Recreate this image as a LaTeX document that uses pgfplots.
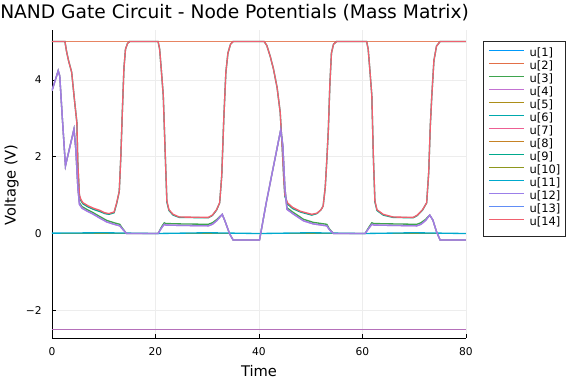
\documentclass[border=0pt]{standalone}
\usepackage{pgfplots}
\pgfplotsset{compat=1.18}
\usepackage{fontspec}
\setmainfont{DejaVu Sans}
\definecolor{c1}{HTML}{009AFA}
\definecolor{c2}{HTML}{E36F47}
\definecolor{c3}{HTML}{3EA44E}
\definecolor{c4}{HTML}{C371D2}
\definecolor{c5}{HTML}{AC8E18}
\definecolor{c6}{HTML}{00A9AD}
\definecolor{c7}{HTML}{ED5E93}
\definecolor{c8}{HTML}{C68225}
\definecolor{c9}{HTML}{00A98D}
\definecolor{c10}{HTML}{8E971D}
\definecolor{c11}{HTML}{00A9CD}
\definecolor{c12}{HTML}{9B7FE9}
\definecolor{c13}{HTML}{618DF6}
\definecolor{c14}{HTML}{F0606E}
\pgfplotsset{lw/.style={line width=1pt}}
\begin{document}
\begin{tikzpicture}
\useasboundingbox (0,0) rectangle (432pt,288pt);
\begin{axis}[
  at={(39pt,34.5pt)}, anchor=south west,
  scale only axis, width=310.5pt, height=231pt,
  xmin=0, xmax=80, ymin=-2.72, ymax=5.3,
  axis x line*=bottom, axis y line*=left,
  axis line style={black, line width=0.7pt},
  tick align=inside, major tick length=3pt,
  tick style={black, line width=0.6pt},
  xtick={0,20,40,60,80}, ytick={-2,0,2,4},
  yticklabels={−2,0,2,4},
  grid=major, major grid style={black!7, line width=0.5pt},
  /pgf/number format/assume math mode=true,
  ticklabel style={font=\fontsize{8}{9.6}\selectfont},
  xticklabel style={yshift=-3.8pt},
  yticklabel style={xshift=-4.3pt},
  legend image code/.code={\draw[#1, line width=1.125pt] (0pt,2.7pt) -- (26.25pt,2.7pt);},
  legend style={at={(rel axis cs:1,1)}, anchor=north west, xshift=12.75pt, yshift=-8.25pt,
    draw=black!85, font=\fontsize{8.6}{10}\selectfont,
    inner xsep=3.75pt, inner ysep=4.8pt, row sep=0pt, column sep=3.6pt,
    nodes={inner sep=0pt, text height=6.9pt, text depth=2.85pt}},
  legend cell align=left,
  legend entries={u[1],u[2],u[3],u[4],u[5],u[6],u[7],u[8],u[9],u[10],u[11],u[12],u[13],u[14]},
]
\addlegendimage{c1}
\addlegendimage{c2}
\addlegendimage{c3}
\addlegendimage{c4}
\addlegendimage{c5}
\addlegendimage{c6}
\addlegendimage{c7}
\addlegendimage{c8}
\addlegendimage{c9}
\addlegendimage{c10}
\addlegendimage{c11}
\addlegendimage{c12}
\addlegendimage{c13}
\addlegendimage{c14}
% ground-level nodes
\addplot[forget plot, c1, lw] coordinates {(0,0) (80,0)};
\addplot[forget plot, c5, lw] coordinates {(0,0) (80,0)};
\addplot[forget plot, c6, lw] coordinates {(0,0) (80,0)};
\addplot[forget plot, c8, lw] coordinates {(0,0) (80,0)};
\addplot[forget plot, c10, lw] coordinates {(0,0) (80,0)};
\addplot[forget plot, c11, lw] coordinates {(0,0.01) (10,0.02) (20,0.0) (30,0.02) (40,0.0) (50,0.02) (60,0.0) (70,0.02) (80,0.0)};
% supply -2.5
\addplot[forget plot, c13, lw] coordinates {(0,-2.5) (80,-2.5)};
\addplot[forget plot, c7, lw, opacity=0.6] coordinates {(0,-2.5) (80,-2.5)};
% supply 5
\addplot[forget plot, c2, line width=1.125pt, opacity=0.85] coordinates {(0,5) (80,5)};
% u[9] close to output
\addplot[forget plot, c9, lw] coordinates {
(0,5.0) (2.5,5.0) (2.8,4.75) (3.2,4.5) (3.8,4.2) (4.4,3.4) (4.8,2.9) (5.0,1.8) (5.3,0.97) (5.6,0.85) (6.0,0.77) (7,0.69) (8,0.63) (9.3,0.57) (10.2,0.52) (11,0.5) (12,0.54) (12.5,0.78) (13.0,1.1) (13.3,2.0) (13.6,3.2) (13.9,4.3) (14.2,4.8) (14.6,4.95) (15,5.0)
(20.5,5.0) (20.8,4.8) (21.1,4.3) (21.5,3.6) (21.9,2.0) (22.2,0.82) (22.6,0.6) (23.4,0.48) (24.6,0.42) (30.2,0.41) (31.0,0.47) (31.8,0.61) (32.4,0.8) (32.8,1.5) (33.2,3.0) (33.6,4.2) (34.0,4.7) (34.5,4.93) (35,5.0)
(41.0,5.0) (41.5,4.9) (42.2,4.6) (42.8,4.28) (43.5,3.8) (44.1,3.15) (44.5,2.2) (44.8,1.4) (45,0.97) (45.5,0.77) (46.5,0.65) (48,0.56) (50.2,0.48) (51.2,0.52) (52,0.62) (52.4,0.72) (52.8,1.2) (53.1,1.9) (53.4,2.7) (53.7,3.9) (54,4.7) (54.4,4.93) (55,5.0)
(60.8,5.0) (61.1,4.8) (61.4,4.3) (61.8,3.6) (62.1,2.0) (62.4,0.82) (62.8,0.6) (64,0.48) (65.9,0.42) (69.8,0.41) (70.6,0.47) (71.6,0.61) (72.4,0.8) (72.8,1.6) (73.1,2.8) (73.4,3.6) (73.8,4.5) (74.3,4.88) (75,5.0) (80,5.0)};
% output u[14]
\addplot[forget plot, c14, lw] coordinates {
(0,5.0) (2.5,5.0) (2.8,4.75) (3.2,4.5) (3.8,4.2) (4.4,3.4) (4.8,2.9) (5.0,1.8) (5.3,1.0) (5.6,0.88) (6.0,0.80) (7,0.72) (8,0.66) (9.3,0.6) (10.2,0.54) (11,0.52) (12,0.56) (12.5,0.8) (13.0,1.1) (13.3,2.0) (13.6,3.2) (13.9,4.3) (14.2,4.8) (14.6,4.95) (15,5.0)
(20.5,5.0) (20.8,4.8) (21.1,4.3) (21.5,3.6) (21.9,2.0) (22.2,0.85) (22.6,0.62) (23.4,0.5) (24.6,0.43) (30.2,0.42) (31.0,0.48) (31.8,0.62) (32.4,0.8) (32.8,1.5) (33.2,3.0) (33.6,4.2) (34.0,4.7) (34.5,4.93) (35,5.0)
(41.0,5.0) (41.5,4.9) (42.2,4.6) (42.8,4.28) (43.5,3.8) (44.1,3.15) (44.5,2.2) (44.8,1.4) (45,1.0) (45.5,0.8) (46.5,0.68) (48,0.58) (50.2,0.5) (51.2,0.53) (52,0.62) (52.4,0.72) (52.8,1.2) (53.1,1.9) (53.4,2.7) (53.7,3.9) (54,4.7) (54.4,4.93) (55,5.0)
(60.8,5.0) (61.1,4.8) (61.4,4.3) (61.8,3.6) (62.1,2.0) (62.4,0.85) (62.8,0.62) (64,0.5) (65.9,0.43) (69.8,0.42) (70.6,0.48) (71.6,0.62) (72.4,0.8) (72.8,1.6) (73.1,2.8) (73.4,3.6) (73.8,4.5) (74.3,4.88) (75,5.0) (80,5.0)};
% u[3] slightly above the internal node
\addplot[forget plot, c3, lw] coordinates {
(0,3.72) (1.2,4.24) (1.5,4.1) (2.0,3.0) (2.6,1.76) (4.25,2.72) (4.6,2.2) (5.0,1.2) (5.3,0.8) (5.8,0.7) (6.7,0.63) (8,0.54) (9,0.46) (10.6,0.34) (12,0.28) (13.1,0.24) (13.6,0.14) (14.4,0.0) (20.5,0.0) (21.2,0.18) (21.7,0.28) (22,0.26) (25,0.25) (30.2,0.24) (31,0.28) (31.8,0.36) (32.4,0.44) (32.9,0.5) (33.5,0.3) (34.3,0.0) (35,-0.17)
(40.1,-0.17) (41.4,0.8) (44.2,2.7) (44.6,2.3) (45.0,1.2) (45.4,0.67) (46.5,0.56) (48.6,0.37) (50.5,0.29) (53.1,0.24) (53.6,0.12) (54.4,0.0) (60.5,0.0) (61.3,0.18) (61.8,0.28) (62.2,0.26) (66,0.25) (70.5,0.24) (71.3,0.28) (72.2,0.37) (73,0.48) (73.6,0.35) (74.3,0.05) (75,-0.17) (80,-0.17)};
% internal nodes u[4], u[12]
\addplot[forget plot, c4, lw] coordinates {
(0,3.72) (1.2,4.24) (1.5,4.1) (2.0,3.0) (2.6,1.76) (4.25,2.72) (4.6,2.2) (5.0,1.2) (5.3,0.76) (5.8,0.66) (6.7,0.59) (8,0.5) (9,0.42) (10.6,0.3) (12,0.24) (13.1,0.2) (13.6,0.12) (14.4,0.0) (20.5,0.0) (21.2,0.15) (21.7,0.24) (22,0.22) (25,0.21) (30.2,0.2) (31,0.24) (31.8,0.33) (32.4,0.42) (32.9,0.5) (33.5,0.3) (34.3,0.0) (35,-0.17)
(40.1,-0.17) (41.4,0.8) (44.2,2.7) (44.6,2.3) (45.0,1.2) (45.4,0.63) (46.5,0.52) (48.6,0.33) (50.5,0.25) (53.1,0.2) (53.6,0.1) (54.4,0.0) (60.5,0.0) (61.3,0.15) (61.8,0.24) (62.2,0.22) (66,0.21) (70.5,0.2) (71.3,0.24) (72.2,0.34) (73,0.48) (73.6,0.35) (74.3,0.05) (75,-0.17) (80,-0.17)};
\addplot[forget plot, c12, lw, opacity=0.85] coordinates {
(0,3.72) (1.2,4.24) (1.5,4.1) (2.0,3.0) (2.6,1.76) (4.25,2.72) (4.6,2.2) (5.0,1.2) (5.3,0.76) (5.8,0.66) (6.7,0.59) (8,0.5) (9,0.42) (10.6,0.3) (12,0.24) (13.1,0.2) (13.6,0.12) (14.4,0.0) (20.5,0.0) (21.2,0.15) (21.7,0.24) (22,0.22) (25,0.21) (30.2,0.2) (31,0.24) (31.8,0.33) (32.4,0.42) (32.9,0.5) (33.5,0.3) (34.3,0.0) (35,-0.17)
(40.1,-0.17) (41.4,0.8) (44.2,2.7) (44.6,2.3) (45.0,1.2) (45.4,0.63) (46.5,0.52) (48.6,0.33) (50.5,0.25) (53.1,0.2) (53.6,0.1) (54.4,0.0) (60.5,0.0) (61.3,0.15) (61.8,0.24) (62.2,0.22) (66,0.21) (70.5,0.2) (71.3,0.24) (72.2,0.34) (73,0.48) (73.6,0.35) (74.3,0.05) (75,-0.17) (80,-0.17)};
\end{axis}
\node[anchor=base west, inner sep=0pt, font=\fontsize{14}{16}\selectfont] at (0pt,273.75pt) {NAND Gate Circuit - Node Potentials (Mass Matrix)};
\node[anchor=base, inner sep=0pt, font=\fontsize{11}{13}\selectfont] at (194.25pt,5.6pt) {Time};
\node[anchor=base, rotate=90, inner sep=0pt, font=\fontsize{11}{13}\selectfont] at (11.8pt,149.25pt) {Voltage (V)};
\end{tikzpicture}
\end{document}
